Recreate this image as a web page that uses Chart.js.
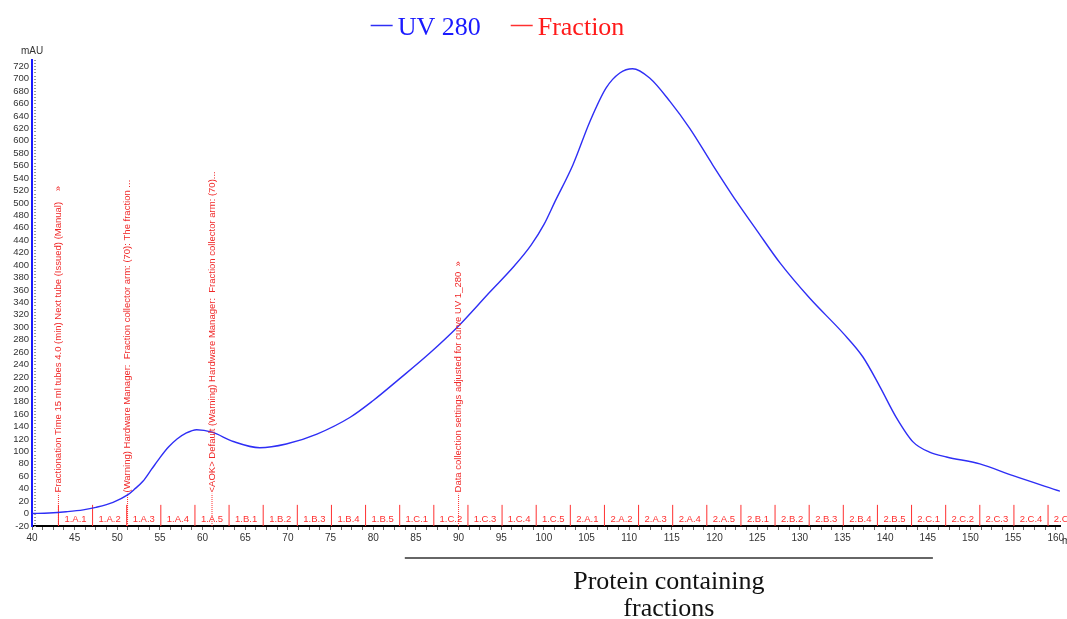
<!DOCTYPE html>
<html>
<head>
<meta charset="utf-8">
<title>UV 280 chromatogram</title>
<script src="https://cdn.jsdelivr.net/npm/chart.js@4/dist/chart.umd.min.js"></script>
<style>
  html, body { margin: 0; padding: 0; background: #fff; }
</style>
</head>
<body>
<canvas id="uvChart" width="1067" height="619"></canvas>
<script>
// UV 280 trace: elution volume (ml) and absorbance (mAU)
const uvVolume = [40, 42, 44, 46, 47.5, 49.5, 51.2, 52, 53, 54, 55, 56, 57, 58, 59.3, 61.1, 63.6, 66.7, 69.8, 73.4, 77.3,
  80, 83, 86.6, 90, 93.7, 96.5, 98.5, 100, 101.3, 103.4, 105.4, 107.3, 108.9, 110.4, 112.4, 114.8,
  117.1, 119.8, 122.6, 125, 127.7, 131.2, 135.1, 137.4, 139.4, 141.3, 143.3, 145.2, 147.2, 151.1, 155, 160.5];
const uvAbs = [0, 1, 3, 6, 10, 18, 30, 39, 52, 71, 90, 107, 120, 129, 135, 131, 116, 106, 112, 128, 155,
  182, 216, 258, 302, 357, 398, 432, 465, 502, 561, 631, 685, 709, 716, 701, 663,
  620, 561, 502, 455, 403, 346, 290, 252, 204, 155, 115, 99, 91, 80, 61, 36];

// fraction collector tubes (start volume of each tube)
const fractionStart = [43.1, 47.1, 51.1, 55.1, 59.1, 63.1, 67.1, 71.1, 75.1, 79.1,
  83.1, 87.1, 91.1, 95.1, 99.1, 103.1, 107.1, 111.1, 115.1, 119.1,
  123.1, 127.1, 131.1, 135.1, 139.1, 143.1, 147.1, 151.1, 155.1, 159.1];
const fractionNames = ['1.A.1', '1.A.2', '1.A.3', '1.A.4', '1.A.5', '1.B.1', '1.B.2', '1.B.3', '1.B.4', '1.B.5',
  '1.C.1', '1.C.2', '1.C.3', '1.C.4', '1.C.5', '2.A.1', '2.A.2', '2.A.3', '2.A.4', '2.A.5',
  '2.B.1', '2.B.2', '2.B.3', '2.B.4', '2.B.5', '2.C.1', '2.C.2', '2.C.3', '2.C.4', '2.C.5'];

// run log events
const eventVolume = [43.1, 51.2, 61.1, 90.0];
const eventText = [
  'Fractionation Time 15 ml tubes 4.0 (min) Next tube (Issued) (Manual)    \u00bb',
  '(Warning) Hardware Manager:  Fraction collector arm: (70): The fraction ...',
  '<AOK> Default (Warning) Hardware Manager:  Fraction collector arm: (70)...',
  'Data collection settings adjusted for curve UV 1_280  \u00bb'
];

// axis limits
const xRange = [40, 160.5];
const yRange = [-20, 730];

// pooled protein fractions
const proteinRange = [83.7, 145.6];
const proteinLabel = ['Protein containing', 'fractions'];

const blue = '#2e2ef5';
const red = '#ff3030';
const sans = 'Liberation Sans, Arial, sans-serif';
const serif = 'Liberation Serif, Times New Roman, serif';

const uvPoints = uvVolume.map((v, i) => ({ x: v, y: uvAbs[i] }));

// vertical marks: one segment per entry, broken by a null point
function segments(xs, top) {
  const pts = [];
  xs.forEach(v => {
    pts.push({ x: v, y: yRange[0] }, { x: v, y: top }, { x: v, y: null });
  });
  return pts;
}

const overlay = {
  id: 'overlay',
  afterDatasetsDraw(chart) {
    const { ctx, chartArea } = chart;
    const xs = chart.scales.x;
    const ys = chart.scales.y;
    ctx.save();

    // inner minor ticks on the value axis
    ctx.strokeStyle = '#9a9a9a';
    ctx.lineWidth = 1;
    for (let v = yRange[0]; v <= yRange[1]; v += 5) {
      const py = Math.round(ys.getPixelForValue(v)) + 0.5;
      ctx.beginPath();
      ctx.moveTo(chartArea.left + 2, py);
      ctx.lineTo(chartArea.left + 4, py);
      ctx.stroke();
    }

    // unit labels
    ctx.fillStyle = '#333';
    ctx.font = '10px ' + sans;
    ctx.textAlign = 'center';
    ctx.textBaseline = 'middle';
    ctx.fillText('mAU', chartArea.left, chartArea.top - 9);
    ctx.textAlign = 'left';
    ctx.fillText('ml', chartArea.right + 2, chartArea.bottom + 15);

    // tube names
    ctx.fillStyle = red;
    ctx.font = '9.5px ' + sans;
    ctx.textAlign = 'center';
    fractionStart.forEach((v, i) => {
      const next = i + 1 < fractionStart.length ? fractionStart[i + 1] : v + 4;
      ctx.fillText(fractionNames[i], xs.getPixelForValue((v + next) / 2), ys.getPixelForValue(-10));
    });

    // event log text, rotated along the marker
    ctx.fillStyle = '#f02828';
    ctx.textAlign = 'left';
    eventVolume.forEach((v, i) => {
      ctx.save();
      ctx.translate(xs.getPixelForValue(v), ys.getPixelForValue(34));
      ctx.rotate(-Math.PI / 2);
      ctx.fillText(eventText[i], 0, 0);
      ctx.restore();
    });

    // pooled range bracket below the axis
    const x0 = xs.getPixelForValue(proteinRange[0]);
    const x1 = xs.getPixelForValue(proteinRange[1]);
    const by = chartArea.bottom + 32;
    ctx.strokeStyle = '#333';
    ctx.lineWidth = 1.5;
    ctx.beginPath();
    ctx.moveTo(x0, by);
    ctx.lineTo(x1, by);
    ctx.stroke();
    ctx.fillStyle = '#111';
    ctx.font = '26px ' + serif;
    ctx.textAlign = 'center';
    ctx.textBaseline = 'alphabetic';
    ctx.fillText(proteinLabel[0], (x0 + x1) / 2, chartArea.bottom + 63);
    ctx.fillText(proteinLabel[1], (x0 + x1) / 2, chartArea.bottom + 90);

    // legend
    const items = chart.data.datasets.slice(0, 2);
    ctx.font = '26px ' + serif;
    const dash = 22, gap = 5, space = 30;
    const widths = items.map(d => dash + gap + ctx.measureText(d.label).width);
    const total = widths.reduce((a, b) => a + b, 0) + space;
    let lx = chart.width / 2 - 36 - total / 2;
    items.forEach((d, i) => {
      ctx.strokeStyle = d.borderColor;
      ctx.lineWidth = 1.5;
      ctx.beginPath();
      ctx.moveTo(lx, 25.5);
      ctx.lineTo(lx + dash, 25.5);
      ctx.stroke();
      ctx.fillStyle = i === 0 ? '#1a1aff' : '#ff1a1a';
      ctx.textAlign = 'left';
      ctx.fillText(d.label, lx + dash + gap, 35);
      lx += widths[i] + space;
    });

    ctx.restore();
  }
};

new Chart(document.getElementById('uvChart').getContext('2d'), {
  type: 'line',
  data: {
    datasets: [
      {
        label: 'UV 280',
        data: uvPoints,
        borderColor: blue,
        borderWidth: 1.4,
        pointRadius: 0,
        cubicInterpolationMode: 'monotone'
      },
      {
        label: 'Fraction',
        data: segments(fractionStart, 14),
        borderColor: red,
        borderWidth: 1,
        pointRadius: 0,
        spanGaps: false
      },
      {
        label: 'Events',
        data: segments(eventVolume, 32),
        borderColor: red,
        borderWidth: 1,
        borderDash: [1, 1],
        pointRadius: 0,
        spanGaps: false
      }
    ]
  },
  options: {
    responsive: false,
    animation: false,
    devicePixelRatio: 1,
    layout: { padding: { top: 60, right: 7, left: 0, bottom: 0 } },
    plugins: {
      legend: { display: false },
      tooltip: { enabled: false }
    },
    scales: {
      x: {
        type: 'linear',
        min: xRange[0],
        max: xRange[1],
        border: { color: '#000', width: 2 },
        grid: { drawOnChartArea: false, tickLength: 4, tickColor: '#666' },
        ticks: {
          stepSize: 1.25,
          autoSkip: false,
          includeBounds: false,
          maxRotation: 0,
          minRotation: 0,
          padding: 2,
          color: '#333',
          font: { family: sans, size: 10 },
          callback: v => (v % 5 === 0 ? v : '')
        },
        afterFit: s => { s.height = 93; }
      },
      y: {
        min: yRange[0],
        max: yRange[1],
        border: { color: '#1a1aff', width: 2 },
        grid: { drawOnChartArea: false, drawTicks: false },
        ticks: {
          stepSize: 20,
          autoSkip: false,
          includeBounds: false,
          padding: 3,
          color: '#333',
          font: { family: sans, size: 9.5 }
        },
        afterFit: s => { s.width = 32; }
      }
    }
  },
  plugins: [overlay]
});
</script>
</body>
</html>
